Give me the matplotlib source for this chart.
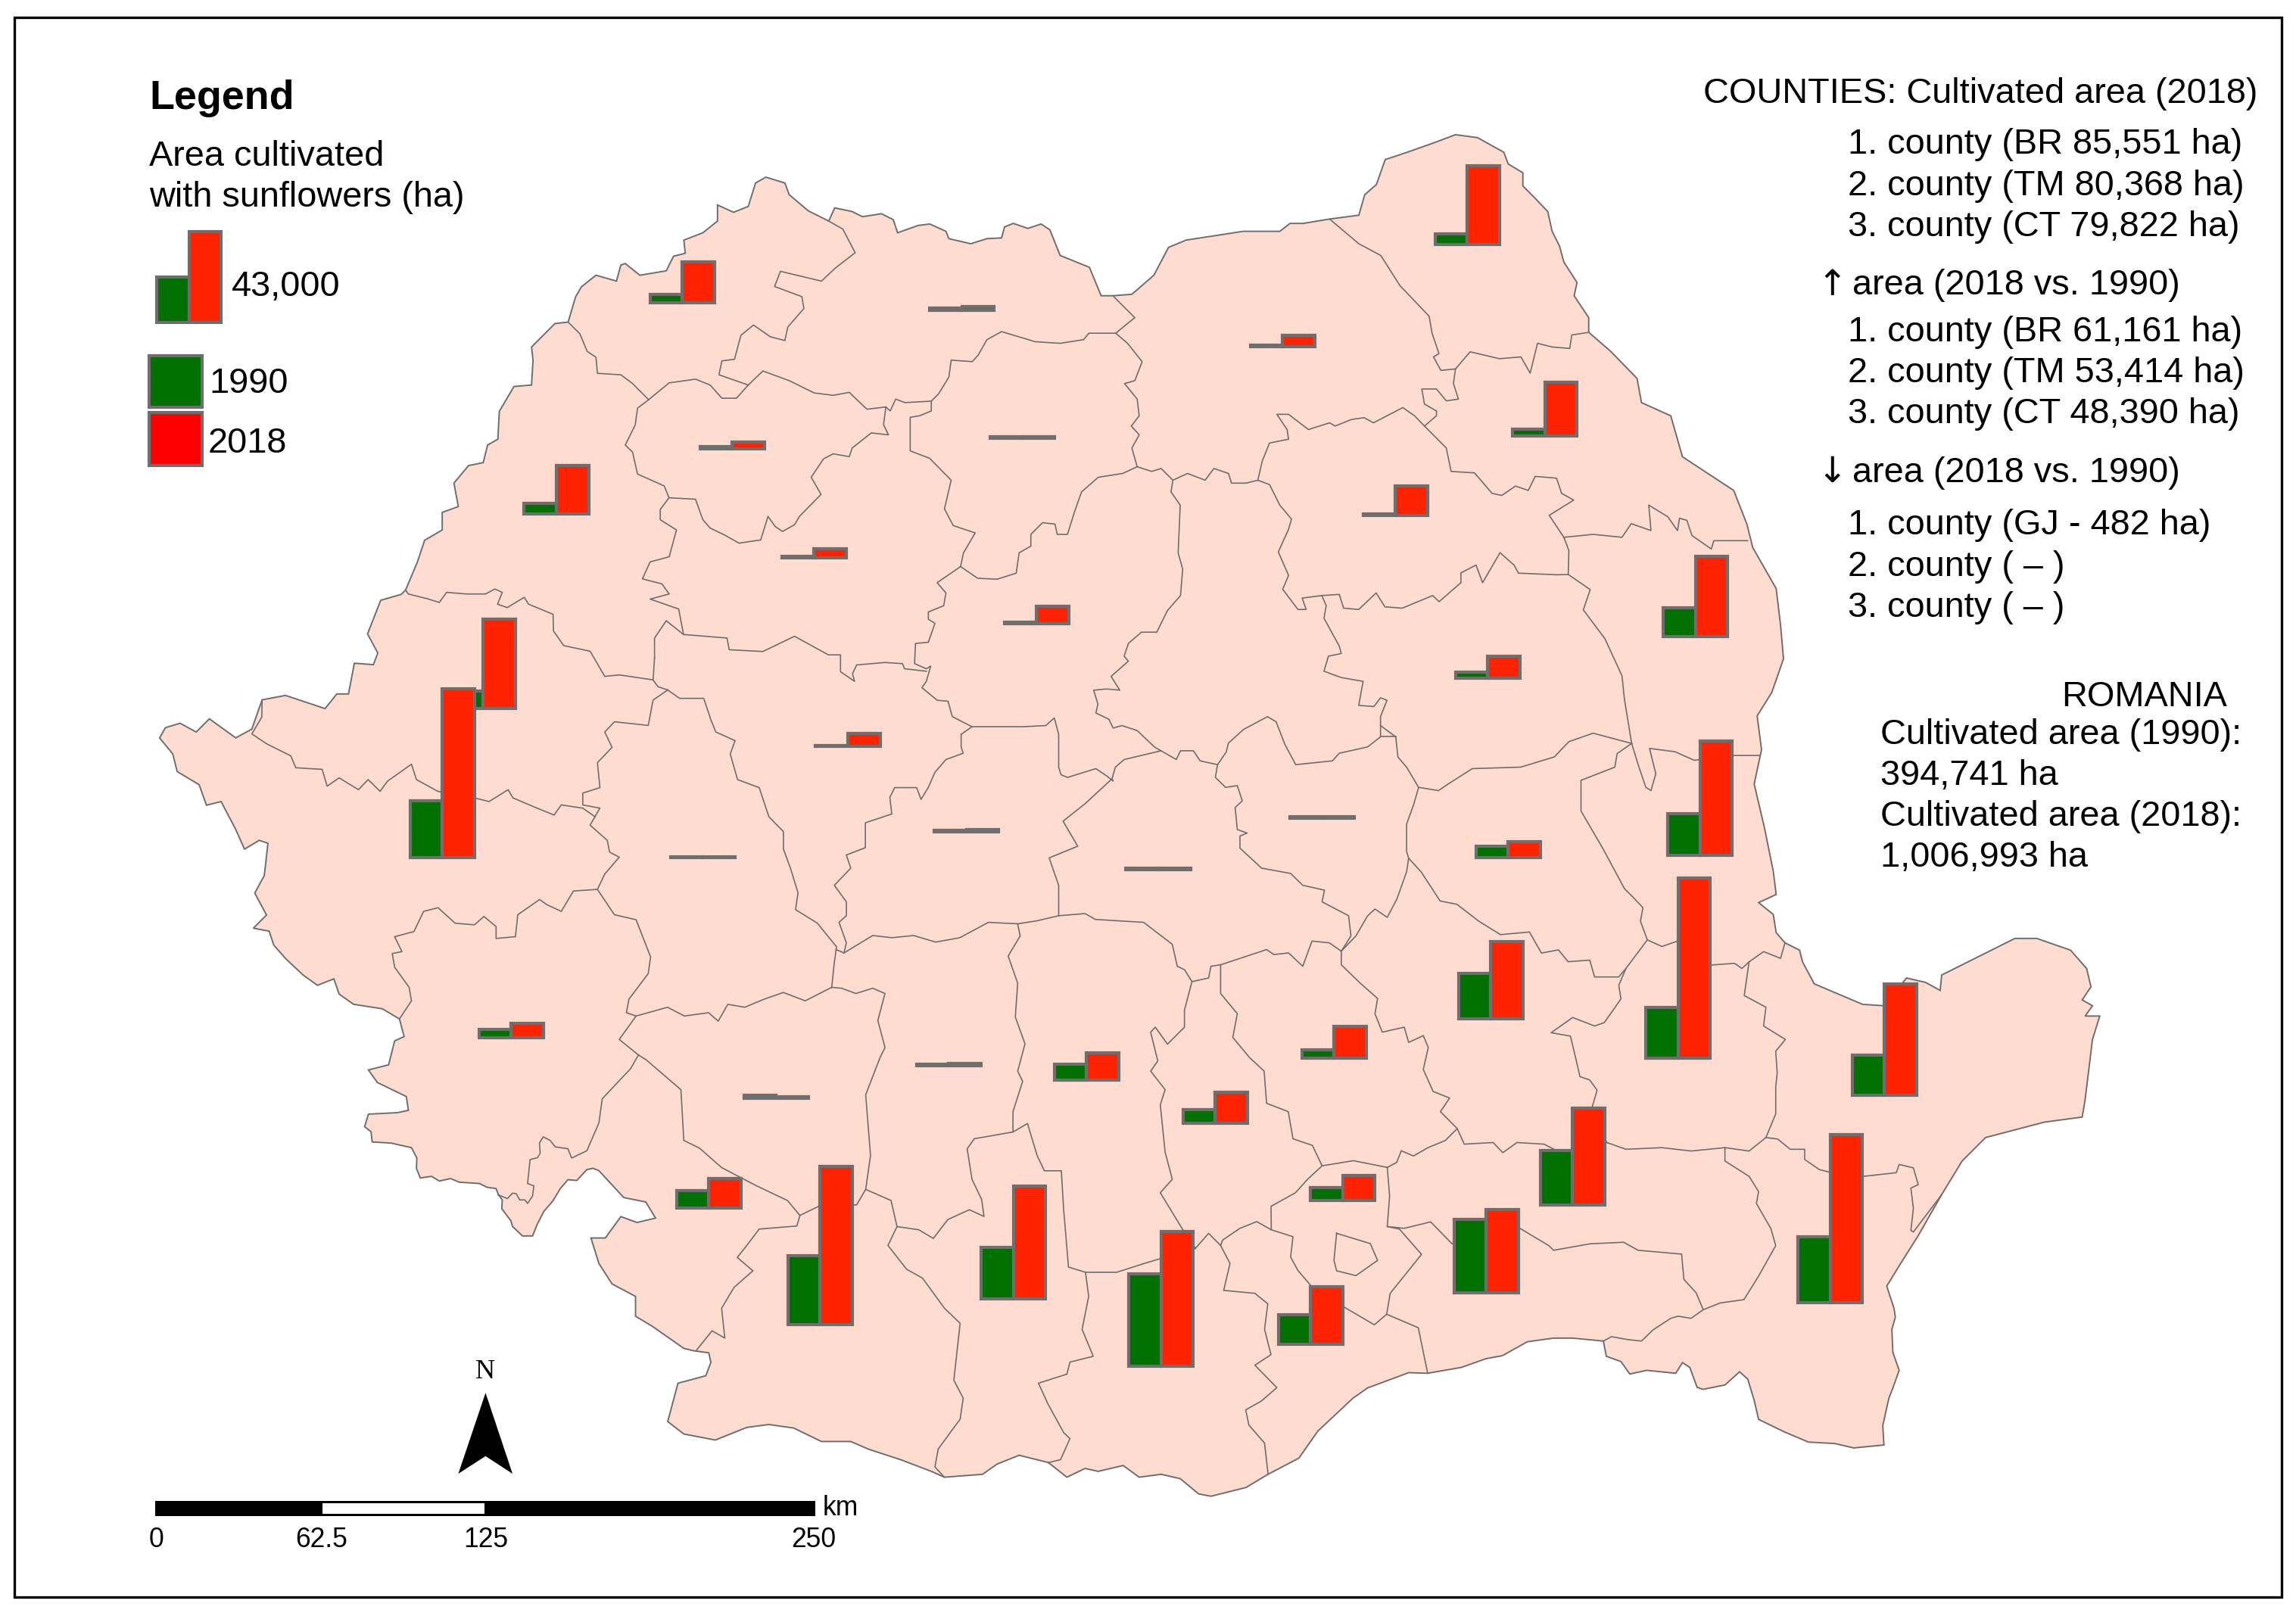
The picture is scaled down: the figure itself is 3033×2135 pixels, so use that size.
import matplotlib
matplotlib.use("Agg")
import matplotlib.pyplot as plt
from matplotlib.patches import Polygon, Rectangle

plt.rcParams['font.family'] = ['Liberation Sans', 'DejaVu Sans']

# sunflower area per county (ha)
counties = ['SM', 'MM', 'BT', 'SV', 'SJ', 'BN', 'BH', 'IS', 'NT', 'CJ', 'MS', 'VS', 'BC', 'AR', 'TM', 'AB',
            'GL', 'VN', 'HR', 'SB', 'BV', 'HD', 'CS', 'BR', 'BZ', 'PH', 'TL', 'GJ', 'VL', 'AG', 'DB', 'IL',
            'MH', 'DJ', 'OT', 'TR', 'IF', 'GR', 'CL', 'CT']
area_1990 = [4200, 1000, 4900, 700, 1000, 700, 4900, 3500, 700, 700, 700, 13900, 2800, 8300, 26954, 700,
             19500, 5600, 700, 700, 700, 700, 4200, 24390, 21500, 4200, 18800, 1150, 700, 7600, 6300, 25700,
             8300, 32700, 24300, 43800, 6300, 13900, 34800, 31432]
area_2018 = [19500, 1700, 37500, 5600, 3100, 700, 22900, 25700, 13900, 4200, 8300, 38200, 10400, 42400, 80368, 6300,
             54200, 7600, 700, 1000, 700, 700, 6900, 85551, 36800, 15300, 52800, 668, 1000, 13200, 14600, 45900,
             13900, 75100, 53500, 63900, 11800, 27100, 39600, 79822]
# where each pair of bars stands on the map (middle x, base y)
bar_x = [466, 657, 1002, 876, 500, 698, 380, 1055, 953, 556, 708, 1158, 1016, 330, 302, 579,
         1161, 1030, 903, 660, 791, 480, 349, 1146, 1018, 911, 1287, 530, 648, 742, 830, 1074,
         484, 560, 692, 793, 917, 895, 1015, 1250]
bar_y = [207, 212, 167, 237, 306.5, 299.5, 351, 298, 352, 381, 426, 435, 463, 484, 586, 510,
         584, 586, 559, 568, 594, 586, 709, 723, 696, 723, 748, 750, 728, 738, 767, 823,
         825, 905, 887, 933, 820, 918, 883, 890]
HA_PER_PX = 695
legend_1990 = 21500
legend_2018 = 43000

# country outline
outline = [(109,504),(113,497),(123,494),(134,500),(143,491),(161,504),(172,498),(179,478),(195,475),(207,479),(222,484),(230,474),(238,474),(242,453),(255,454),(258,446),(251,433),(260,410),(274,406),(277,403),(285,384),(290,369),(302,362),(302,350),(313,346),(310,330),(320,318),(330,316),(333,304),(340,300),(341,281),(351,264),(363,263),(364,246),(363,237),(379,221),(388,220),(393,203),(397,196),(407,188),(421,192),(424,181),(427,180),(437,188),(455,185),(460,175),(468,173),(467,164),(480,159),(490,151),(490,140),(501,145),(511,141),(516,125),(523,121),(536,125),(539,133),(552,144),(566,151),(570,142),(582,144.5),(589,148),(602,146),(610,150),(613,159),(627,154),(635,153),(646,158),(648,163),(663,166.5),(674,163),(684,162.5),(686,155),(692,152.6),(702,156),(711,153),(717,157),(724,174.5),(744,182.6),(752,202),(760,202),(773,201),(788,188),(798,169),(810,164),(849,158),(874,158),(881,152.6),(890,152.6),(908,149.6),(928,147),(932,133),(940,126),(946,109),(961,104),(978,98),(994,92),(1009,94),(1027,104),(1030,112),(1040,118),(1040,127),(1047,134),(1057,144.5),(1060,158),(1065,168),(1068,179),(1077,193),(1075,202),(1085,217),(1085,227),(1100,240),(1118,258.5),(1121,275),(1141,284),(1149,312),(1184,335),(1193,358),(1197,374),(1213,402),(1216,427),(1218,450),(1210,473),(1200,489),(1203,512),(1198,535.5),(1205,565.5),(1211,595),(1213,611),(1201,616.5),(1211,624.6),(1213,637),(1219,644),(1229,649),(1231,657),(1239,672),(1272,686),(1287,687),(1302,668),(1315,671),(1325,676.5),(1326,666),(1340,659),(1358,650),(1376,641),(1391,641),(1414,649),(1425,661.5),(1428,674),(1422,683),(1429,687),(1424,694),(1434,694),(1429,710),(1424,751),(1422,763),(1396,766.5),(1356,777),(1340,793),(1326,816),(1310,844),(1297,864.6),(1288.5,878.5),(1293.5,893.7),(1294.4,899.7),(1292,908),(1292.7,923.8),(1297,936),(1292.7,948),(1290,955),(1287.5,966),(1285.8,973.8),(1286.6,987),(1266,989),(1253,986),(1235,985),(1218.5,978),(1201,969.5),(1198,956.6),(1193.6,942),(1188,937),(1178,946),(1163,949),(1159,947.6),(1154,934),(1149,930.7),(1144.4,938),(1124.6,936),(1113,938.5),(1107,930),(1097,926.4),(1095,916),(1074,914),(1061,914),(1043,916.5),(1026,926),(1015,928),(998,934),(975,938),(962,937.6),(934,948),(924,955),(900,977.5),(887,996),(866,1007),(851,1016),(827,1022),(818.6,1020.4),(806,1010),(793,1007),(778,1009),(767,1001),(750,1005),(741,1003),(728.6,1009),(716,999),(696,994),(681,1000),(671,1007),(645,1009),(636,1005),(615,997),(593.5,990),(581,984.6),(561,984.6),(542,975.4),(525,973),(510,975),(488.5,983.6),(467,979.5),(456,971),(463,944.8),(482,939.7),(485.5,930.5),(484,924),(474,922.7),(467,921),(445.6,906),(434,899),(434,885.5),(418,877),(409,863),(403.6,845.6),(413.4,845.6),(424,831),(435,835),(447.7,832),(441,821),(426,818),(409,799.6),(405,798),(400.8,798.9),(393.9,806.3),(387.8,805.8),(382.7,811.8),(377.5,820.4),(371.5,827.3),(367,836),(363.7,844.2),(356.8,844.2),(350,837.7),(349,834),(342.7,825.6),(343,819.6),(340.4,816),(338.7,811.8),(332.7,811),(327.5,808.4),(313.7,807.5),(307.7,805),(300,806.7),(294.7,803.5),(287,804.6),(284.4,798),(284.7,791),(281,783.9),(267.2,780.8),(254.2,780),(253.4,773),(249,769.6),(251.6,761),(271.5,760),(278.9,758.4),(277.5,749),(257.7,739.4),(251.6,730.8),(265.4,727.3),(269.5,711),(276,708),(272.8,696),(261,689),(241.5,686),(231.6,679),(228,668.6),(216.8,673),(207,666),(195.3,655),(187,645.6),(183.8,636),(173,634),(182,625),(174,610),(180.5,598),(183,576),(177,574),(167,580),(160.7,566),(151,547.5),(141,550),(136,536),(121,527),(118,515)]

# county borders
borders = [
    # north west
    [(388,220),(396,228),(401,240),(407,244),(408,255),(424,256),(432,262),(443,273)],
    [(443,273),(457,261.5),(475,259),(485,263),(493,272),(503,272),(511,263),(521,253.4),(539,260),(556,268.4),(569,270),(580,268),(592,279.5),(605,278)],
    [(511,263),(491,256),(493,246.5),(501.6,245.4),(506,229),(514.6,222),(526,230),(536,232.6),(538,223.4),(549,210.7),(547.6,202.6),(529,195.7),(533,185.3),(552.5,190),(561,192),(570.6,183),(584,172.6),(575.6,156.5),(566,151)],
    [(760,202),(767,209),(775,217),(770,221),(762,227.6),(743.6,227.6),(740,232),(724,234.5),(707,233.4),(684,226.5),(674,232),(668,242.6),(664,247),(649.6,246),(648,257.6),(641,269),(636,274),(618,275),(611.7,272.6),(608,280.7),(605,278)],
    [(605,278),(603.4,290),(606.7,297),(595,295.7),(582,306),(580,311.9),(569,310),(562.4,313.4),(554,326),(560.7,337.7),(546,352.7),(542.6,358.4),(534.4,363),(529.4,359.6),(524.5,352.7),(519.5,368.8),(504.7,371),(494.8,365.4),(485,360.7),(480,355),(475,341),(456.9,340),(453.6,331.9),(435.4,323.8),(432,308.8),(427,304),(433.8,290.3),(435.4,278.8),(443,273)],
    # Bistrita and Cluj
    [(636,274),(636,280.7),(628,284),(621.6,285),(621.6,308),(634.8,313),(649.6,328),(645,347.6),(651,359),(666,364),(658,377.6),(656,387),(667.7,395),(681,395.6),(694,391.5),(696,377.6),(704,373),(704,365),(712,357),(720.5,358),(722,365),(729,365),(733.7,350),(738.6,336),(750,326),(766.7,323.4),(776.6,318.8)],
    [(762,227.6),(770,234.5),(780,247),(775,260),(768,262),(776.6,272.6),(778,284),(772.6,291),(778,297),(773,306),(776.6,318.8)],
    [(776.6,318.8),(786.5,322),(793,320),(801,328),(811,323.4),(823,328),(829,320),(839,323.4),(841,330),(851,330),(859,328),(867,331),(874,345),(882,354.6),(880,361.5),(873,377),(880,393),(876,402.5),(886.4,416.3),(892,416.3),(889.3,408.5),(902.7,406.8)],
    [(801,328),(799.7,336),(806,345),(804.6,377.6),(807.7,388.7),(806.2,406.8),(797.3,417),(790,431.8),(779.5,431.8),(770.6,439.5),(767.7,448.2),(770.6,451.6),(758.8,462),(764.7,471.4),(755.8,470.6),(746.9,471.4),(749.8,481),(748.4,487),(757.3,491.3),(760.2,497.3),(766.2,495.6),(776.6,499),(788.4,510.2),(792.9,512.8)],
    [(656,387),(640,398),(646,405),(644.5,413.7),(634,418),(634,423),(638.5,425.7),(634,438.7),(625.2,439.5),(624.6,453.3),(632.6,456.8),(635.6,455),(632.6,465.4),(629.6,469.7),(640,478.3),(647.4,479),(650.4,489.5),(663.8,496.4),(681.6,496.4),(697.9,496.4),(714.2,495.6),(720,490.4),(723,501.6),(723,524),(724.6,529.2),(729,531),(748.4,525),(755.8,530),(760.2,533.5),(759.4,532)],
    [(632.6,458.5),(617.8,456.8),(616.3,453.3),(604.4,452.5),(585,454.2),(582.2,460.2),(583.6,465.4),(574,458.8),(574,447.3),(565.7,447.3),(542.6,434.6),(521,445),(498,443.8),(496.5,435.8),(466.8,433.4),(455,424),(447,435.8),(447,449.6)],
    [(456.9,340),(450.9,348),(450.9,355),(462,362),(457,380.3),(444,383.8),(438.7,395.4),(452,398.8),(457,405.7),(444,409.2),(463.5,416),(466.8,433.4)],
    # Bihor, Arad, Timis
    [(277,403),(278.8,405.7),(292,409),(300,411.5),(305,404.6),(318.4,405.7),(331.6,405.7),(338,402.3),(343,404.6),(339.8,412.7),(346.4,415),(358,408),(361,412.7),(377.7,419.6),(378,431),(385,441),(403,444.8),(413,462),(423,461),(446,464.4),(449.3,469),(456,471.3)],
    [(447,449.6),(446,464.4)],
    [(456,471.3),(446,478.2),(442.7,495.5),(419.6,493),(413,500),(418,510.5),(408,520.9),(409.7,538),(398,541.7),(398,549.8),(409.7,552),(403,563.6),(414.7,574),(416.3,582),(422.9,585.5),(413,597),(408,607.5)],
    [(179,478),(178.8,489.8),(172,501.3),(182,508),(198.6,516.3),(202,524.4),(220,525.5),(223.4,537),(231.6,531.3),(244.8,539.4),(251.4,532.5),(259.6,540.5),(264.6,533.6),(281,522),(284.4,532.5),(299,540.5),(324,545),(334,547.5),(347,539.4),(350.3,545),(366.8,552),(378.4,556.7),(383.3,549.8),(398,552),(406.4,557.9)],
    [(272.8,696),(281,683.6),(279.4,674.4),(269.5,660.6),(267.9,651.3),(274.5,650),(269.5,639.8),(282.7,636.3),(289.3,622.5),(299.2,620),(310.8,630.6),(324,631.7),(330.5,626),(338.8,632.9),(338.8,641),(352,639.8),(353.6,624.8),(368.5,614.4),(373.4,617.9),(383.3,622.5),(391.6,608.6),(408,607.5)],
    # Hunedoara and Caras
    [(408,607.5),(419.6,624.8),(434.4,628.2),(444.3,653.6),(442.7,665),(429.5,682.5),(427.8,691.7),(434.4,694),(422.9,710),(436,720.6)],
    [(340,816),(346.5,818.7),(350,815),(352.5,815.3),(355,819.6),(358.5,819.6),(360.3,822),(363.7,817),(364.6,810),(360.3,808.4),(362,792),(367,790.8),(368.9,787.7),(368.4,780.8),(371,776.5),(375.8,779),(379.2,783.4),(387.8,784.6),(390.4,791),(400.8,786),(409,767),(411.3,750.5),(430.6,730),(436,720.6)],
    [(434.4,694),(455.9,688),(467.4,694),(483.9,691.7),(490.5,697.5),(497,686),(508.6,688),(521.8,682.5),(535,677.9),(549.9,683.6),(568,674.4)],
    [(456,471.3),(464.1,477),(480.6,477),(485.6,492),(488.9,500),(502,505.9),(498.7,515),(503.7,532.5),(518.5,538),(525.1,557.9),(535,568),(535,579.8),(540,593.6),(545,609.8),(543.3,621.3),(558.1,630.5),(571.3,646.7),(569.7,658),(568,674.4)],
    # Alba and Sibiu
    [(656.4,501.6),(656.4,510.2),(657.8,514.5),(646,518.8),(638.5,527.5),(634,537.8),(629,546),(626,538),(611,538),(607.7,544.7),(609,556),(591,562),(591,579),(578,584),(581,593),(569.8,604.7),(578,616),(578,625.5),(573,630),(578,644),(576.4,650.9),(571,648.6)],
    [(663.8,496.4),(656.4,501.6)],
    [(576.4,650.9),(596,639),(609,640.5),(624,639),(639,643.5),(655.5,640.5),(675,630),(695,631),(708,629),(723,625.5),(741,624),(748,628),(781,630),(800.6,645),(804,660),(809,662.4),(814,670.5),(825.4,668),(827,660),(833.6,659),(865,648.6),(870,652),(880,650.9),(889.7,660),(896,642.8),(907.8,644),(916,649.7)],
    [(723,625.5),(723,604.7),(716.5,586),(736,578),(726,560.9),(741,549),(759.4,532),(761.7,524),(767.7,518.8),(792.9,512.8),(803.3,518.8),(806.2,512.8),(815,512.8),(819.6,519.7),(831.5,522.3),(830,531),(837,537.8),(845,536.6),(848.4,547),(843.5,551.6),(845,566.6),(851.7,569),(846.8,571),(846.8,579.3),(861.6,593),(881.4,596.6),(889.7,604.7),(904.5,608),(902.9,616),(921,625.5),(922.6,639.3),(916,649.7)],
    # Harghita, Covasna, Vrancea
    [(831.5,522.3),(837.4,513.7),(838.9,507.6),(849.3,498.2),(865.6,489.5),(871.5,493),(877.5,508.5),(884.9,522.3),(910,519.7),(914.6,514.5),(933.9,510.2),(942.8,503.3),(942.8,489.5),(947.2,478.3),(942.8,476.6),(938.3,482.6),(927.9,481.8),(930.9,465.4),(916,462.8),(904.2,458.5),(907.2,448.2),(916,446.4),(914.6,441.3),(904.2,422.3),(905.7,413.7),(902.7,406.8)],
    [(942.8,495.6),(953.2,503.3),(954.7,517.1),(960.6,524),(968.8,537.8),(965.5,549.3),(960.6,563),(960.6,581.6),(962,586.2),(960.6,595.5),(954,614),(947.4,626.6),(939,620.9),(934,625.5),(926,639.3),(916,649.7)],
    [(916,649.7),(916,659),(929,671.6),(940.8,682),(939,692.4),(944,705),(959,701.6),(962,712),(972,707.4),(975.4,715.5),(972,730.5),(978.7,745.5),(990,750),(983.7,759.3),(995.2,770.9),(987,779),(975.2,783.9),(965.3,789.6),(957,786),(953.8,794),(947.4,797.4)],
    [(995.2,770.9),(1000,781.5),(1019.7,780.4),(1026.3,787.3),(1036,780.4),(1054.4,781.5),(1075,792),(1097.3,780.4),(1110.4,785),(1135,783.9),(1155,786.2),(1178,783.9),(1194.5,786.2),(1206,777)],
    [(962,586.2),(970.5,595.5),(983.5,615.4),(995,617.7),(1009.9,629.2),(1024.7,638.4),(1044.5,636.6),(1052.7,651),(1064.3,648.8),(1070.9,656.9),(1085.7,655.8),(1089,667.3),(1105.5,667.3),(1110.4,661.5),(1125,642),(1135,646.5),(1145,643),(1168,659.2),(1184.6,658),(1189.6,661.5),(1194.5,657),(1204.4,650),(1216,654.6),(1219,644)],
    [(1125,642),(1120.3,629.2),(1122,620),(1115.4,613),(1109.4,607),(1094.5,579.3),(1079.7,554),(1079.7,533),(1102.8,524),(1104.4,514.7),(1114.3,507.8)],
    [(1114.3,507.8),(1119.3,524),(1124,537.8),(1127.5,540),(1130.8,528.5),(1126.5,511.2),(1144,513.5),(1157,519.3),(1183.6,516),(1201.7,516)],
    # north east
    [(908,149.6),(928,166.5),(943,174.5),(956,195),(976,216),(978,227.6),(982.7,241.5),(979,243.8),(984,253),(994,252),(1004,240.3),(1024,245),(1038.7,243.8),(1045,254.9),(1050,234.5),(1060,237),(1072,238),(1073.4,228.8),(1085,227)],
    [(859,328),(862,315),(867,302.6),(880,300),(879,293.4),(872,283),(880,283),(893.6,293.4),(908,288.8),(911.8,291),(923,286.5),(931.6,285.3),(938,288.8),(958,278.4),(966,284),(972.8,291),(981,284),(981,280.7),(972.8,276),(971,265.7),(981,265.7),(987.7,273.8),(996,272.6),(992.6,262),(994,252)],
    [(972.8,291),(987.7,306),(991,322),(1007,323),(1019,337),(1025.6,338.4),(1035,332),(1043.7,335),(1048.4,325.4),(1063,326.6),(1066.5,337),(1074.7,341.6),(1058,352),(1068,367),(1071.4,376),(1071,392.4)],
    [(1068,367),(1088,365),(1107.7,367),(1114,357.7),(1127.5,362.4),(1126,345),(1139,353),(1145.6,362.4),(1147,354),(1152,355.4),(1155.5,365.8),(1168.7,375),(1170.4,369.3),(1193.5,369.3)],
    [(902.7,406.8),(914.6,406),(917.6,415.4),(927.9,416.3),(939.8,405),(945.8,414.5),(957.6,415.4),(978.4,406.8),(982.8,411),(997.7,398),(997.7,391.3),(1008,386),(1012.5,398),(1024.4,377.5),(1034,386),(1037,391.5),(1063.5,392.6),(1071,392.4),(1086,402.7),(1081.3,416.6),(1096,436.2),(1107.7,461.6),(1109.4,477.8),(1114.3,507.8)],
    [(1114.3,507.8),(1088,500.8),(1071.4,506.6),(1061.5,517),(1038.5,524),(1005.5,525),(989,535.5),(982.4,540),(968.8,537.8)],
    [(942.8,503.3),(953.2,503.3)],
    # south east
    [(1110.4,661.5),(1105.5,673),(1107,682.3),(1095.6,698.5),(1089,700.8),(1074,695),(1059.3,705.4),(1072.5,707.7),(1075.8,721.5),(1079,735.4),(1085.7,737.7),(1090.7,744.6),(1087.4,756),(1097.3,780.4)],
    [(1194.5,657),(1191.2,680),(1206,688),(1204.4,700.8),(1219.3,710),(1212.7,718),(1213.7,733),(1212.7,742.3),(1212.7,760.8),(1206,777)],
    [(1206,777),(1214,778),(1222.6,785),(1232.5,785),(1232.5,792),(1242.4,798.8),(1250.6,801),(1273.7,803.4),(1295,801),(1297,795.4),(1306.7,797.7),(1310,809.2),(1305,811.5),(1306.7,825.4),(1305,840.4),(1306.7,841.5),(1326,816)],
    [(947.4,797.4),(949,817),(947.4,837.8),(959,839),(977,834.6),(991.7,849.6),(1038,839),(1057.7,850.8),(1061,854),(1085.7,849.6),(1108.8,848.5),(1118.7,854),(1148.4,856.6),(1150,873.9),(1158.3,883),(1163.2,894.6),(1174.7,890),(1191,887.7),(1201,871.6),(1212.7,850.8),(1209.4,839.2),(1199.5,822),(1201,813.9),(1194.5,803.5),(1178,793),(1178,783.9)],
    [(1163.2,894.6),(1154.8,900.5),(1146,899),(1141,900.5),(1129,908.3),(1121,916),(1111.7,915),(1100.5,913),(1095,916)],
    # south
    [(436,720.6),(441.3,723.9),(465,744.3),(467,779),(477.7,784.2),(492.8,797.5),(516.3,809.8),(537.8,820),(546.3,830.2),(544.2,837.4),(518.5,839.5),(510,850.7),(503.5,858.9),(514.2,868),(501.3,879.3),(492.8,893.6),(495,914),(486.3,909),(475.6,922.3)],
    [(546.3,830.2),(559,824),(585,823),(591.2,812.4)],
    [(568,674.4),(574.7,675),(584.6,678.6),(596,675),(604.4,678.6),(599.5,697),(604.4,715.5),(601,722.4),(591.2,747.8),(594.5,789.3),(591.2,812.4),(608.5,820),(612.6,837.8)],
    [(612.6,837.8),(627.5,840),(637.4,845.9),(647.3,833),(662,826.3),(672,830.9),(670.4,819.3),(663.8,805.5),(660.5,784.7),(665.4,777.8),(691.8,773.2),(691.8,759.3),(698.4,738.6),(695,731.6),(700,713),(693.4,694.7),(695,671.6),(688.5,653),(696.7,639.3),(695,631)],
    [(612.6,837.8),(606.4,850.7),(619.2,867),(630,873),(645,893.6),(655.7,903.9),(651.4,942.7),(657.8,955),(655.7,969.3),(640.7,989.8),(638.5,1002),(645,1009)],
    [(691.8,773.2),(701.7,767.4),(708.3,789.3),(713.2,799.7),(724.8,799.7),(726.4,826.3),(729.7,865.5),(741.3,869),(762.7,869),(780.8,863.2),(792.4,859.7),(816.4,852.7),(825.4,842.4),(833.6,850.7),(840,863),(835.7,881.4),(857,883.4),(865.8,890.6),(863.6,908),(868,925.3),(857,932.5),(872,947.8),(861.4,957),(850.7,963),(852.9,973.4),(863.6,985.7),(866,1007)],
    [(741.3,869),(743.5,885.5),(739,908),(746.6,926.4),(730.7,930.4),(728.6,938.6),(709.2,944.8),(715.7,959),(726.4,978.5),(730.7,982.6),(724.3,997),(716,999)],
    [(814,670.5),(808.9,690),(808.9,701.6),(797.3,713.2),(789,701.6),(785.8,705),(790.7,724.7),(785.8,731.6),(795.7,744.3),(792.4,754.7),(795.7,787),(800.6,805.5),(792.4,814.7),(807.2,839),(816.4,852.7)],
    [(833.6,659),(833.6,678.6),(845,692.4),(841.9,708.6),(853.4,722.4),(863.3,731.6),(865,753.6),(879.8,759.3),(883,777.8),(896.3,782.4),(902.9,796.3),(924.3,792.8),(947.4,797.4)],
    [(902.9,796.3),(893,805.5),(884.7,814.7),(868,824),(868.2,840),(883,844.7),(881.4,858.6),(886.4,867.8),(896,879),(919.3,893.6),(938.6,904.9),(947,897.7),(949.4,883.4),(970.8,856.8),(955.7,839.5),(947.4,837.8)],
    [(868.2,840),(858.3,834.4),(846.8,839),(835,847),(833.6,850.7)],
    [(947,897.7),(968.6,906.9),(973,928.4),(975,938)],
    # Bucharest
    [(912.8,842.4),(911,860.9),(912.8,868),(926,871.3),(940.8,860.9),(935.8,849.4),(912.8,842.4)],
]

fig = plt.figure(figsize=(15.165, 10.675), dpi=200, facecolor='white')
ax = fig.add_axes([0, 0, 1, 1])
ax.set_xlim(0, 1568)
ax.set_ylim(1103.8, 0)
ax.axis('off')

GREY = '#6E6E6E'
ax.add_patch(Rectangle((10, 12), 1548, 1079, fill=False, ec='black', lw=1.2))

ax.add_patch(Polygon(outline, closed=True, fc='#FEDCD0', ec=GREY, lw=0.7, zorder=1))
for b in borders:
    ax.plot([p[0] for p in b], [p[1] for p in b], color=GREY, lw=0.6, zorder=2)

# bars, y axis is flipped so heights go negative
BAR_W = 22
for i in range(len(counties)):
    ax.bar(bar_x[i] - BAR_W / 2, -area_1990[i] / HA_PER_PX, BAR_W, bottom=bar_y[i], color='#007000',
           edgecolor=GREY, linewidth=1.5, zorder=3)
    ax.bar(bar_x[i] + BAR_W / 2, -area_2018[i] / HA_PER_PX, BAR_W, bottom=bar_y[i], color='#FF2200',
           edgecolor=GREY, linewidth=1.5, zorder=3)

# legend
FS = 16.9
ax.text(102, 67, 'Legend', fontsize=19.4, fontweight='bold', va='center')
ax.text(102, 107, 'Area cultivated', fontsize=FS, va='center')
ax.text(102, 135, 'with sunflowers (ha)', fontsize=FS, va='center')
ax.bar(118, -legend_1990 / HA_PER_PX, BAR_W, bottom=220, color='#007000', edgecolor=GREY, linewidth=1.5)
ax.bar(140, -legend_2018 / HA_PER_PX, BAR_W, bottom=220, color='#FF2200', edgecolor=GREY, linewidth=1.5)
ax.text(158, 196, '43,000', fontsize=FS, va='center')
ax.add_patch(Rectangle((102, 243), 36, 35, fc='#007000', ec=GREY, lw=1.5))
ax.add_patch(Rectangle((102, 282), 36, 36, fc='#FF0000', ec=GREY, lw=1.5))
ax.text(143, 262, '1990', fontsize=FS, va='center')
ax.text(142, 303, '2018', fontsize=FS, va='center')

# text block on the right
right_text = [
    (1163, 64, 'COUNTIES: Cultivated area (2018)'),
    (1262, 99, '1. county (BR 85,551 ha)'),
    (1262, 127, '2. county (TM 80,368 ha)'),
    (1262, 155, '3. county (CT 79,822 ha)'),
    (1265, 195, 'area (2018 vs. 1990)'),
    (1262, 227, '1. county (BR 61,161 ha)'),
    (1262, 255, '2. county (TM 53,414 ha)'),
    (1262, 283, '3. county (CT 48,390 ha)'),
    (1265, 323, 'area (2018 vs. 1990)'),
    (1262, 359, '1. county (GJ - 482 ha)'),
    (1262, 387, '2. county ( – )'),
    (1262, 415, '3. county ( – )'),
    (1408, 476, 'ROMANIA'),
    (1284, 502, 'Cultivated area (1990):'),
    (1284, 530, '394,741 ha'),
    (1284, 558, 'Cultivated area (2018):'),
    (1284, 586, '1,006,993 ha'),
]
for x, y, s in right_text:
    ax.text(x, y, s, fontsize=FS, va='center')
ax.text(1251, 195, '↑', fontsize=17, family='DejaVu Sans', ha='center', va='center')
ax.text(1251, 323, '↓', fontsize=17, family='DejaVu Sans', ha='center', va='center')

# north arrow
ax.add_patch(Polygon([(331.6, 951.4), (350, 1006.6), (331.6, 994.6), (313, 1006.6)], closed=True, fc='black', ec='none'))
ax.text(331.6, 937, 'N', fontsize=13, family='Liberation Serif', ha='center', va='center')

# scale bar
ax.add_patch(Rectangle((106, 1025), 451, 10.5, fc='black', ec='none'))
ax.add_patch(Rectangle((220, 1027), 111, 7, fc='white', ec='none'))
for x, s in [(106.6, '0'), (219.4, '62.5'), (331.6, '125'), (555.8, '250')]:
    ax.text(x, 1052, s, fontsize=12.8, ha='center', va='center')
ax.text(574, 1030, 'km', fontsize=12.8, ha='center', va='center')

fig.savefig('out.png', dpi=200)
